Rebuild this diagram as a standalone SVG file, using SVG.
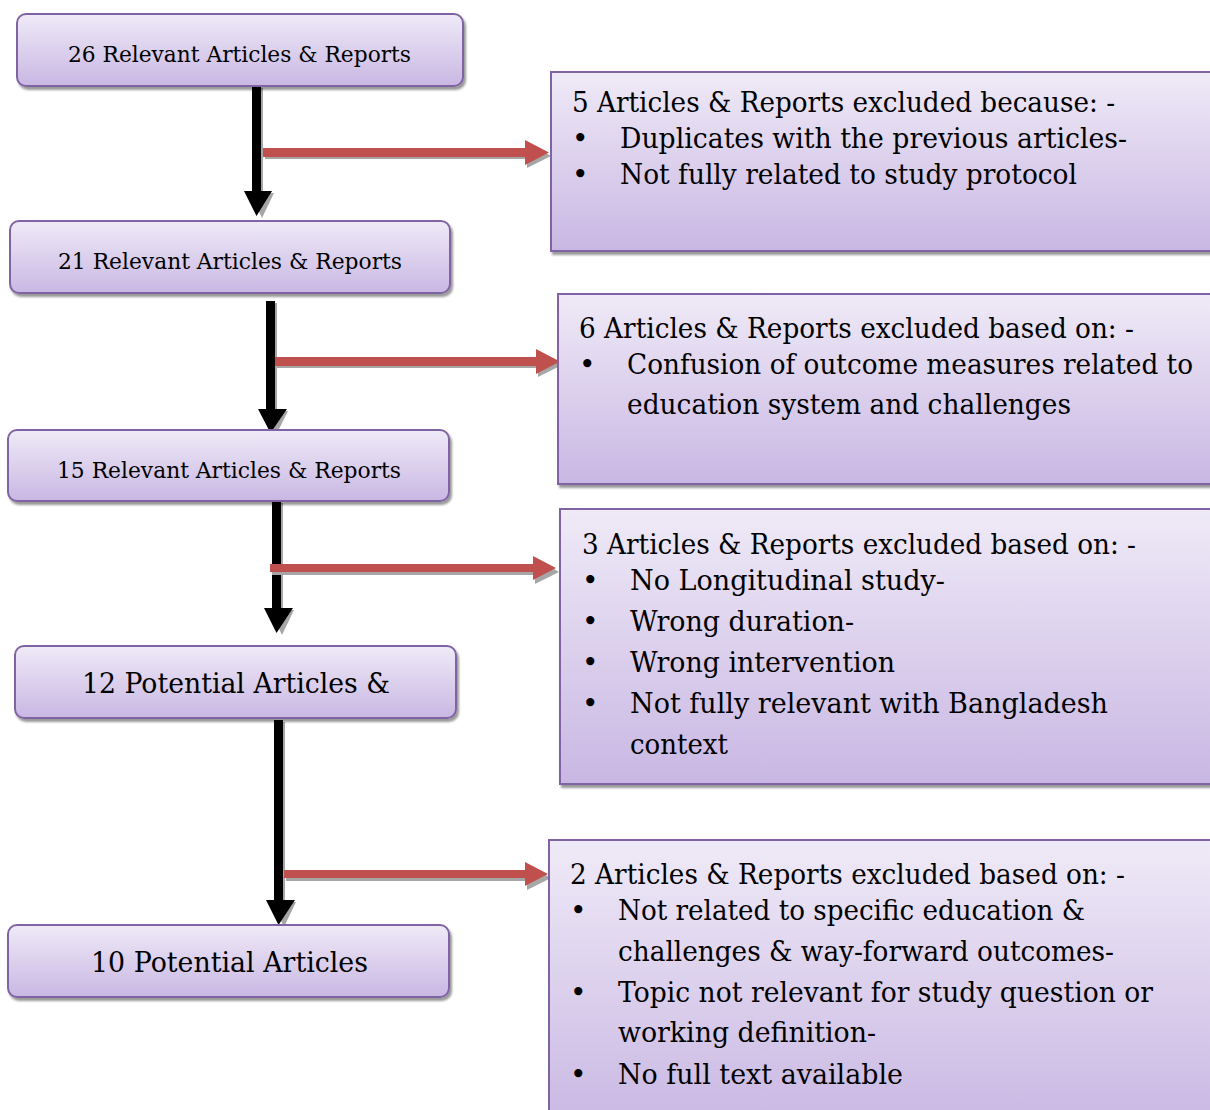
<svg xmlns="http://www.w3.org/2000/svg" width="1210" height="1110" viewBox="0 0 1210 1110">
<defs>
<linearGradient id="g" x1="0" y1="0" x2="0" y2="1">
<stop offset="0" stop-color="#EFEAF7"/>
<stop offset="1" stop-color="#C9B7E3"/>
</linearGradient>
<filter id="sh" x="-5%" y="-5%" width="115%" height="130%">
<feGaussianBlur in="SourceAlpha" stdDeviation="1"/>
<feOffset dx="2" dy="3" result="b"/>
<feFlood flood-color="#000" flood-opacity="0.4"/>
<feComposite in2="b" operator="in"/>
<feMerge><feMergeNode/><feMergeNode in="SourceGraphic"/></feMerge>
</filter>
</defs>
<style>
.n{fill:url(#g);stroke:#8064A2;stroke-width:2;filter:url(#sh)}
.t{font-family:"DejaVu Serif","Liberation Serif",serif;fill:#000}
.s{font-size:22.5px}
.b{font-size:28px}
.r{font-size:28px}
.blk{fill:#000}
.red{fill:#C0504D}
.sd{fill:#A6A6A6}
</style>
<g id="connectors">
<g id="down1"><path class="sd" d="M254,88h9v105h11l-12,25l-12,-25h4z"/><path class="blk" d="M252,86h9v105h11l-15.5,25l-12.5,-25h8z"/></g>
<g id="down2"><path class="sd" d="M268,303h9v108h11l-12,24l-12,-24h4z"/><path class="blk" d="M266,301h9v108h12l-16.5,24l-12.5,-24h8z"/></g>
<g id="down3"><path class="sd" d="M274,503h9v107h11l-12,25l-12,-25h4z"/><path class="blk" d="M272,501h9v107h12l-16.5,25l-12.5,-25h8z"/></g>
<g id="down4"><path class="sd" d="M276,722h9v180h11l-12,25l-12,-25h4z"/><path class="blk" d="M274,720h9v180h12l-16.5,25l-12.5,-25h8z"/></g>
<g id="right1"><path class="sd" d="M265,151h262v-9l24,14l-24,12v-9h-262z"/><path class="red" d="M263,148h262v-8l24,12.5l-24,12.5v-8h-262z"/></g>
<g id="right2"><path class="sd" d="M277,360h261v-9l24,14l-24,12v-9h-261z"/><path class="red" d="M275,357h261v-8l24,12.5l-24,12.5v-8h-261z"/></g>
<g id="right3"><path class="sd" d="M272,567h263v-9l24,14l-24,12v-9h-263z"/><path class="red" d="M270,564h263v-8l23,12l-23,12v-8h-263z"/></g>
<g id="right4"><path class="sd" d="M286,873h241v-9l24,14l-24,12v-9h-241z"/><path class="red" d="M284,870h241v-8l23,12l-23,12v-8h-241z"/></g>
</g>
<g id="node1"><rect class="n" x="17" y="14" width="446" height="72" rx="9"/><text class="t s" x="68" y="62" textLength="343" lengthAdjust="spacingAndGlyphs">26 Relevant Articles &amp; Reports</text></g>
<g id="node2"><rect class="n" x="10" y="221" width="440" height="72" rx="9"/><text class="t s" x="58" y="269" textLength="344" lengthAdjust="spacingAndGlyphs">21 Relevant Articles &amp; Reports</text></g>
<g id="node3"><rect class="n" x="8" y="430" width="441" height="71" rx="9"/><text class="t s" x="57" y="478" textLength="344" lengthAdjust="spacingAndGlyphs">15 Relevant Articles &amp; Reports</text></g>
<g id="node4"><rect class="n" x="15" y="646" width="441" height="72" rx="9"/><text class="t b" x="82" y="693" textLength="308" lengthAdjust="spacingAndGlyphs">12 Potential Articles &amp;</text></g>
<g id="node5"><rect class="n" x="8" y="925" width="441" height="72" rx="9"/><text class="t b" x="91" y="972" textLength="277" lengthAdjust="spacingAndGlyphs">10 Potential Articles</text></g>
<g id="excl1"><rect class="n" x="551" y="72" width="680" height="179"/>
<text class="t r" x="572" y="112" textLength="543" lengthAdjust="spacingAndGlyphs">5 Articles &amp; Reports excluded because: -</text>
<text class="t r" x="572" y="148">•</text><text class="t r" x="620" y="148" textLength="507" lengthAdjust="spacingAndGlyphs">Duplicates with the previous articles-</text>
<text class="t r" x="572" y="184">•</text><text class="t r" x="620" y="184" textLength="457" lengthAdjust="spacingAndGlyphs">Not fully related to study protocol</text></g>
<g id="excl2"><rect class="n" x="558" y="294" width="680" height="190"/>
<text class="t r" x="579" y="338" textLength="555" lengthAdjust="spacingAndGlyphs">6 Articles &amp; Reports excluded based on: -</text>
<text class="t r" x="579" y="374">•</text><text class="t r" x="627" y="374" textLength="566" lengthAdjust="spacingAndGlyphs">Confusion of outcome measures related to</text>
<text class="t r" x="627" y="414" textLength="444" lengthAdjust="spacingAndGlyphs">education system and challenges</text></g>
<g id="excl3"><rect class="n" x="560" y="509" width="680" height="275"/>
<text class="t r" x="582" y="554" textLength="554" lengthAdjust="spacingAndGlyphs">3 Articles &amp; Reports excluded based on: -</text>
<text class="t r" x="582" y="590">•</text><text class="t r" x="630" y="590" textLength="315" lengthAdjust="spacingAndGlyphs">No Longitudinal study-</text>
<text class="t r" x="582" y="631">•</text><text class="t r" x="630" y="631" textLength="224" lengthAdjust="spacingAndGlyphs">Wrong duration-</text>
<text class="t r" x="582" y="672">•</text><text class="t r" x="630" y="672" textLength="265" lengthAdjust="spacingAndGlyphs">Wrong intervention</text>
<text class="t r" x="582" y="713">•</text><text class="t r" x="630" y="713" textLength="478" lengthAdjust="spacingAndGlyphs">Not fully relevant with Bangladesh</text>
<text class="t r" x="630" y="754" textLength="98" lengthAdjust="spacingAndGlyphs">context</text></g>
<g id="excl4"><rect class="n" x="549" y="840" width="680" height="290"/>
<text class="t r" x="570" y="884" textLength="555" lengthAdjust="spacingAndGlyphs">2 Articles &amp; Reports excluded based on: -</text>
<text class="t r" x="570" y="920">•</text><text class="t r" x="618" y="920" textLength="467" lengthAdjust="spacingAndGlyphs">Not related to specific education &amp;</text>
<text class="t r" x="618" y="961" textLength="496" lengthAdjust="spacingAndGlyphs">challenges &amp; way-forward outcomes-</text>
<text class="t r" x="570" y="1002">•</text><text class="t r" x="618" y="1002" textLength="535" lengthAdjust="spacingAndGlyphs">Topic not relevant for study question or</text>
<text class="t r" x="618" y="1042" textLength="258" lengthAdjust="spacingAndGlyphs">working definition-</text>
<text class="t r" x="570" y="1084">•</text><text class="t r" x="618" y="1084" textLength="285" lengthAdjust="spacingAndGlyphs">No full text available</text></g>
</svg>
